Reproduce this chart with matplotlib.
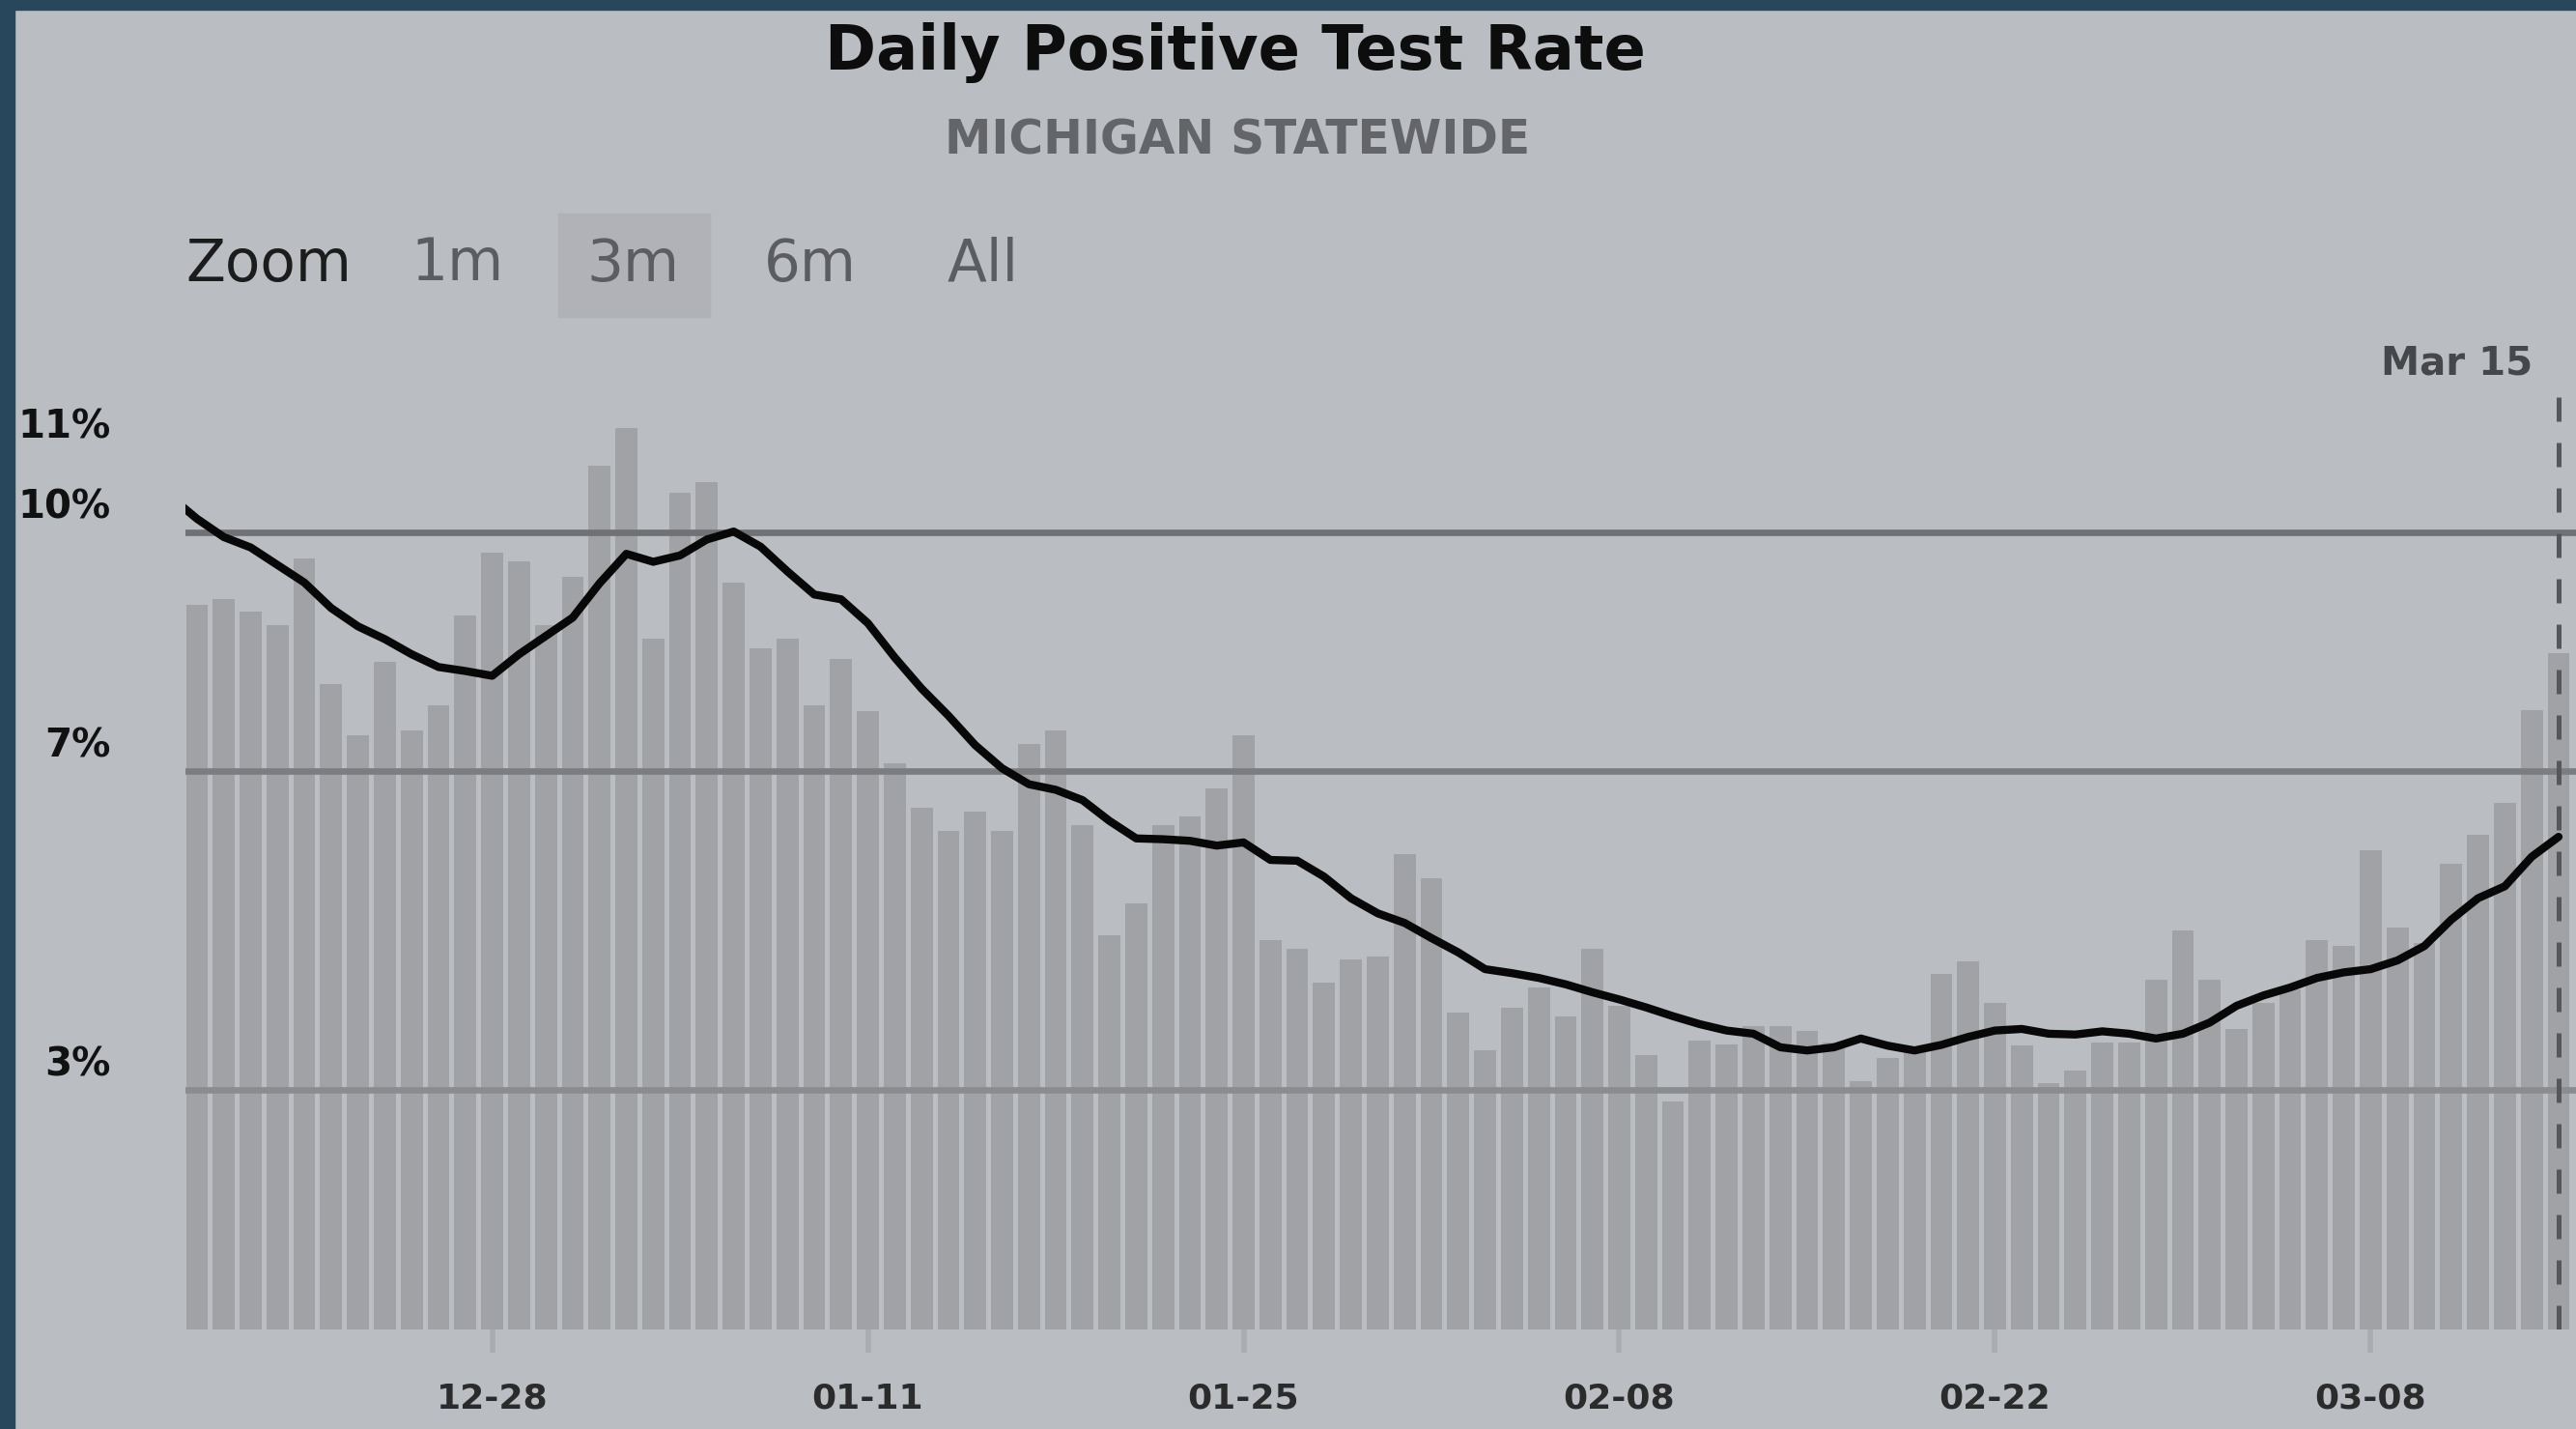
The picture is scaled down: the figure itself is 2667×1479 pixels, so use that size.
import pandas as pd
import matplotlib
matplotlib.use("Agg")
import matplotlib.pyplot as plt
import matplotlib.dates as mdates
from matplotlib.patches import Rectangle

# === DATA ===
start_date = "2020-12-17"
end_date = "2021-03-15"

# daily positive test rate (%), 12-17 .. 03-15
daily_rate = [9.09, 9.16, 9.01, 8.83, 9.67, 8.10, 7.45, 8.37, 7.52, 7.83,
              8.96, 9.74, 9.63, 8.83, 9.44, 10.83, 11.31, 8.66, 10.50, 10.63,
              9.37, 8.55, 8.66, 7.83, 8.41, 7.76, 7.10, 6.55, 6.26, 6.50,
              6.25, 7.35, 7.52, 6.33, 4.95, 5.35, 6.33, 6.44, 6.79, 7.45,
              4.89, 4.78, 4.35, 4.64, 4.68, 5.96, 5.66, 3.97, 3.50, 4.04,
              4.29, 3.93, 4.78, 4.06, 3.44, 2.86, 3.62, 3.57, 3.80, 3.80,
              3.75, 3.60, 3.12, 3.40, 3.50, 4.46, 4.62, 4.10, 3.56, 3.09,
              3.25, 3.60, 3.60, 4.39, 5.00, 4.39, 3.77, 4.10, 4.27, 4.88,
              4.81, 6.01, 5.04, 4.85, 5.84, 6.20, 6.61, 7.77, 8.48]

# rolling average (%), 12-16 .. 03-15 (first point is clipped by the axis)
avg_start = "2020-12-16"
rolling_avg = [10.45, 10.17, 9.94, 9.81, 9.59, 9.37, 9.05, 8.82, 8.66, 8.47,
               8.31, 8.26, 8.20, 8.47, 8.70, 8.93, 9.36, 9.73, 9.63, 9.71,
               9.91, 10.01, 9.82, 9.51, 9.22, 9.16, 8.86, 8.43, 8.04, 7.70,
               7.33, 7.04, 6.84, 6.77, 6.64, 6.38, 6.16, 6.15, 6.13, 6.07,
               6.11, 5.89, 5.88, 5.68, 5.41, 5.22, 5.10, 4.91, 4.73, 4.52,
               4.47, 4.41, 4.33, 4.23, 4.14, 4.04, 3.93, 3.83, 3.75, 3.71,
               3.54, 3.50, 3.54, 3.65, 3.56, 3.50, 3.57, 3.67, 3.75, 3.77,
               3.71, 3.70, 3.74, 3.71, 3.65, 3.71, 3.85, 4.06, 4.19, 4.29,
               4.41, 4.48, 4.52, 4.63, 4.81, 5.14, 5.41, 5.56, 5.93, 6.18]

tick_dates = ["2020-12-28", "2021-01-11", "2021-01-25", "2021-02-08", "2021-02-22", "2021-03-08"]
tick_labels = ["12-28", "01-11", "01-25", "02-08", "02-22", "03-08"]

ref_levels = [10, 7, 3]
ref_colors = ["#6f7175", "#7b7d81", "#8a8c90"]
y_labels = [11, 10, 7, 3]

zoom_buttons = ["1m", "3m", "6m", "All"]

# === STYLE ===
BG = "#babdc2"
BAR = "#a1a2a6"
BORDER = "#28475d"
W, H = 2667, 1479

dates = pd.date_range(start_date, end_date)
avg_dates = pd.date_range(avg_start, end_date)

fig = plt.figure(figsize=(W / 100, H / 100), dpi=100, facecolor=BG)
ax = fig.add_axes([192 / W, 1 - 1376 / H, 1 - 192 / W, (1376 - 395) / H])
ax.set_facecolor(BG)

def fx(px):
    return px / W

def fy(py):
    return 1 - py / H

# bars, reference lines, average
ax.bar(dates, daily_rate, width=0.82, color=BAR, zorder=2)
for lvl, col in zip(ref_levels, ref_colors):
    ax.axhline(lvl, color=col, lw=4.8, zorder=3)
ax.plot(avg_dates, rolling_avg, color="#080808", lw=6, zorder=4,
        solid_joinstyle="round", solid_capstyle="round")

last = dates[-1]
last_num = mdates.date2num(last)
ax.axvline(last, color="#55575b", lw=3.6, linestyle=(0, (5.0, 4.4)), zorder=5)
ax.annotate("Mar 15", xy=(last_num, 1), xycoords=ax.get_xaxis_transform(),
            xytext=(-27, 19), textcoords="offset pixels", ha="right", va="center",
            fontsize=29, fontweight="bold", color="#45474a", annotation_clip=False)

ax.set_xlim(dates[0] - pd.Timedelta(hours=0.43 * 24), last + pd.Timedelta(hours=0.65 * 24))
ax.set_ylim(0, 11.89)

ax.set_xticks(pd.to_datetime(tick_dates))
ax.set_xticklabels(tick_labels)
ax.tick_params(axis="x", length=17, width=4, color="#aaacb0", pad=22,
               labelsize=26, labelcolor="#2b2b2b")
for lab in ax.get_xticklabels():
    lab.set_fontweight("bold")
ax.set_yticks([])
for s in ax.spines.values():
    s.set_visible(False)

for v in y_labels:
    ax.text(-77 / 2475, v + 0.31, f"{v}%", transform=ax.get_yaxis_transform(),
            ha="right", va="center", fontsize=29, fontweight="bold", color="#111111")

# titles
fig.text(fx(1279), fy(54), "Daily Positive Test Rate", ha="center", va="center",
         fontsize=46, fontweight="bold", color="#0d0d0d")
fig.text(fx(1281), fy(145), "MICHIGAN STATEWIDE", ha="center", va="center",
         fontsize=35, fontweight="bold", color="#636569")

# zoom selector
fig.add_artist(Rectangle((fx(578), fy(328)), (735 - 578) / W, (328 - 221) / H,
                         transform=fig.transFigure, color="#b0b2b7", zorder=0))
fig.text(fx(192), fy(274), "Zoom", ha="left", va="center", fontsize=43, color="#1c1c1c")
for label, x0 in zip(zoom_buttons, [425, 607, 791, 981]):
    fig.text(fx(x0), fy(274), label, ha="left", va="center", fontsize=43, color="#5b5d61")

# dark frame strips
fig.add_artist(Rectangle((0, 0), fx(15), 1, transform=fig.transFigure, color=BORDER))
fig.add_artist(Rectangle((0, fy(10)), 1, 10 / H, transform=fig.transFigure, color=BORDER))

fig.savefig("out.png", dpi=100, facecolor=BG)
